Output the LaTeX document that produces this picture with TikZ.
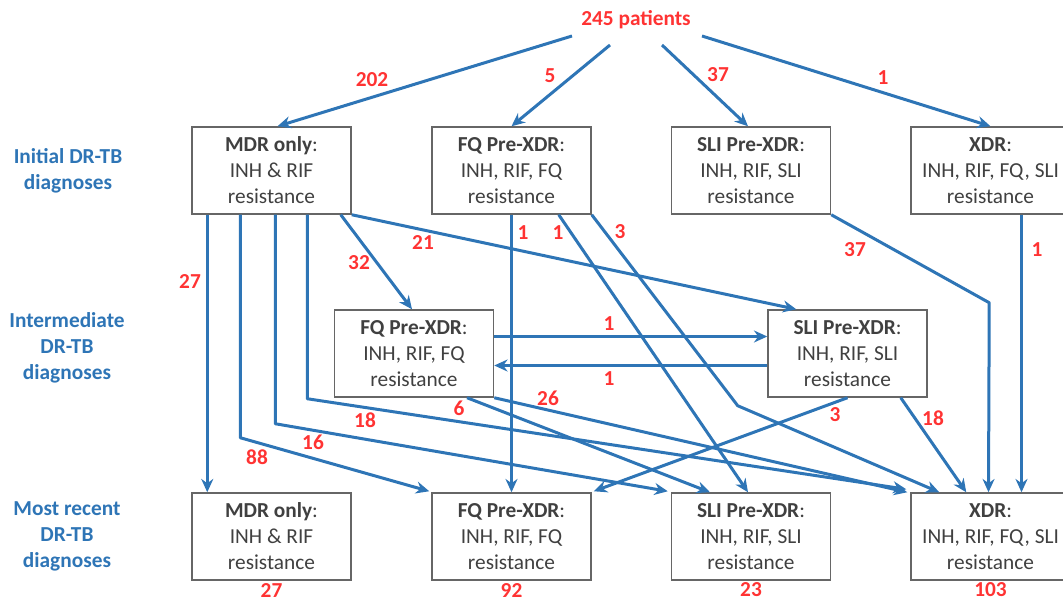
\documentclass[tikz,border=0pt]{standalone}
\usepackage{fontspec}
\setmainfont{Carlito}
\usetikzlibrary{arrows.meta,calc}
\definecolor{tbblue}{HTML}{2E75B6}
\definecolor{tbred}{HTML}{FF3333}
\definecolor{tbgray}{HTML}{404040}
\newcommand{\drtb}[2]{\textbf{#1}:\\#2\\resistance}

\begin{document}
\begin{tikzpicture}[x=0.75pt,y=-0.75pt,
  dx/.style={draw=tbgray!80,line width=1.1pt,text=tbgray,align=center,
    minimum width=119.25pt,minimum height=65.25pt,inner sep=0pt,
    font=\fontsize{16}{19.5}\selectfont},
  num/.style={text=tbred,inner sep=0pt,font=\fontsize{16}{19}\selectfont\bfseries},
  lvl/.style={text=tbblue,align=center,font=\fontsize{16}{19.5}\selectfont\bfseries},
  flow/.style={draw=tbblue,line width=2.25pt,line join=round,-{Stealth[length=10pt,width=9pt]}}]
  \useasboundingbox (0,0) rectangle (1063,603);

  \node[num] (pat) at (636,20) {245 patients};

  \node[lvl] (lvlinit) at (68,171) {Initial DR-TB\\diagnoses};
  \node[lvl] (lvlmid) at (67,348) {Intermediate\\DR-TB\\diagnoses};
  \node[lvl] (lvlbot) at (67,536) {Most recent\\DR-TB\\diagnoses};

  \node[dx] (mdrtop) at (271.5,170.5) {\drtb{MDR only}{INH \& RIF}};
  \node[dx] (fqtop) at (511.5,170.5) {\drtb{FQ Pre-XDR}{INH, RIF, FQ}};
  \node[dx] (slitop) at (751,170.5) {\drtb{SLI Pre-XDR}{INH, RIF, SLI}};
  \node[dx] (xdrtop) at (990.5,170.5) {\drtb{XDR}{INH, RIF, FQ, SLI}};
  \node[dx] (fqmid) at (414,353.5) {\drtb{FQ Pre-XDR}{INH, RIF, FQ}};
  \node[dx] (slimid) at (847.5,353.5) {\drtb{SLI Pre-XDR}{INH, RIF, SLI}};
  \node[dx] (mdrbot) at (271.5,536.5) {\drtb{MDR only}{INH \& RIF}};
  \node[dx] (fqbot) at (511.5,536.5) {\drtb{FQ Pre-XDR}{INH, RIF, FQ}};
  \node[dx] (slibot) at (751,536.5) {\drtb{SLI Pre-XDR}{INH, RIF, SLI}};
  \node[dx] (xdrbot) at (990.5,536.5) {\drtb{XDR}{INH, RIF, FQ, SLI}};

  \node[num] (totmdr) at (271.5,590) {27};
  \node[num] (totfq) at (511.5,590) {92};
  \node[num] (totsli) at (751,590) {23};
  \node[num] (totxdr) at (990.5,590) {103};

  % from the 245 patients
  \draw[flow] ($(pat)+(-64,16)$) -- ($(mdrtop.north)+(6,0)$) node[num] (c202) at (372,80) {202};
  \draw[flow] ($(pat)+(-26,25)$) -- (fqtop.north) node[num] (c5) at (550,76) {5};
  \draw[flow] ($(pat)+(26,25)$) -- ($(slitop.north)+(-3,0)$) node[num] (c37) at (718,75) {37};
  \draw[flow] ($(pat)+(66,16)$) -- (xdrtop.north) node[num] (c1) at (883,78) {1};

  % from initial MDR only
  \draw[flow] ($(mdrtop.south west)+(16,0)$) -- ($(mdrbot.north west)+(16,0)$) node[num] (c27) at (190,282) {27};
  \draw[flow] ($(mdrtop.south west)+(49,0)$) -- ++(0,223) -- ($(fqbot.north west)+(-2,-1)$) node[num] (c88) at (257,457) {88};
  \draw[flow] ($(mdrtop.south west)+(84,0)$) -- ++(0,209) -- ($(slibot.north west)+(-3,-1)$) node[num] (c16) at (313,442) {16};
  \draw[flow] ($(mdrtop.south west)+(116,0)$) -- ++(0,184) -- ($(xdrbot.north west)+(-4,-3)$) node[num] (c18a) at (365,420) {18};
  \draw[flow] ($(mdrtop.south east)+(-11,0)$) -- ($(fqmid.north)+(-2,0)$) node[num] (c32) at (359,263) {32};
  \draw[flow] (mdrtop.south east) -- ($(slimid.north west)+(29,0)$) node[num] (c21) at (423,243) {21};

  % from initial FQ, SLI and XDR
  \draw[flow] (fqtop.south) -- (fqbot.north) node[num] (c1a) at (523,233) {1};
  \draw[flow] ($(fqtop.south east)+(-33,0)$) -- ($(slibot.north)+(-3,0)$) node[num] (c1b) at (558,233) {1};
  \draw[flow] (fqtop.south east) -- ++(146,191) -- ($(xdrbot.north west)+(29,0)$) node[num] (c3a) at (620,232) {3};
  \draw[flow] (slitop.south east) -- ++(158,88) -- ($(xdrbot.north)+(-2,0)$) node[num] (c37b) at (855,250) {37};
  \draw[flow] ($(xdrtop.south)+(31,0)$) -- ($(xdrbot.north)+(31,0)$) node[num] (c1c) at (1037,250) {1};

  % from intermediate diagnoses
  \draw[flow] ($(fqmid.east)+(0,-17)$) -- ($(slimid.west)+(0,-17)$) node[num] (c1d) at (609,324) {1};
  \draw[flow] ($(slimid.west)+(0,12)$) -- ($(fqmid.east)+(0,12)$) node[num] (c1e) at (609,379) {1};
  \draw[flow] ($(fqmid.south)+(53,0)$) -- ($(slibot.north)+(-41,0)$) node[num] (c6) at (459,408) {6};
  \draw[flow] (fqmid.south east) -- ($(xdrbot.north west)+(-3,0)$) node[num] (c26) at (548,398) {26};
  \draw[flow] (slimid.south) -- ($(fqbot.north east)+(2,-1)$) node[num] (c3b) at (835,415) {3};
  \draw[flow] ($(slimid.south east)+(-27,0)$) -- ($(xdrbot.north west)+(56,0)$) node[num] (c18b) at (933,418) {18};
\end{tikzpicture}
\end{document}
